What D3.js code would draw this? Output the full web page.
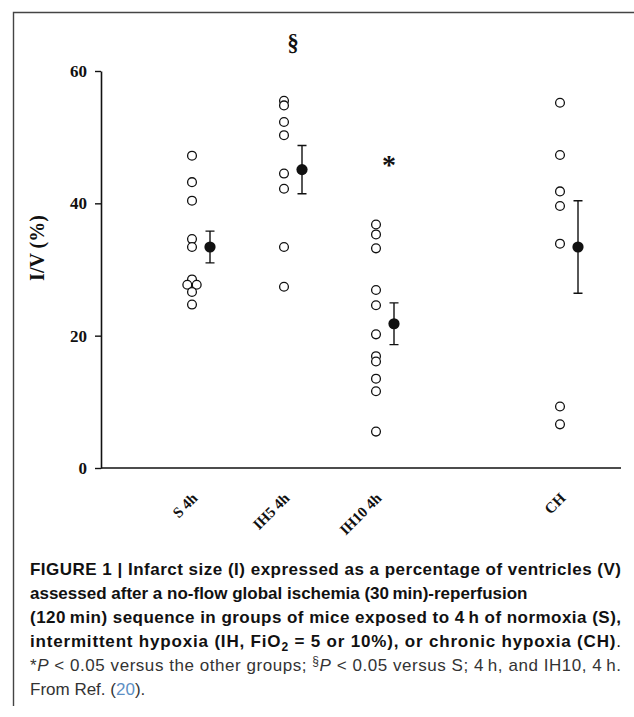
<!DOCTYPE html>
<html>
<head>
<meta charset="utf-8">
<script src="https://cdn.jsdelivr.net/npm/d3@7/dist/d3.min.js"></script>
<style>
  body { margin: 0; background: #fff; }
  svg { display: block; }
</style>
</head>
<body>
<div id="chart"></div>
<script>
// infarct size (I/V, %) per group
var groups = ["S 4h", "IH5 4h", "IH10 4h", "CH"];
// a blank slot sits between IH10 and CH in the original layout
var slots = ["S 4h", "IH5 4h", "IH10 4h", "", "CH"];

var sValues = [47.2, 43.2, 40.4, 34.6, 33.4, 28.5, 27.7, 27.7, 26.6, 24.7];
var ih5Values = [55.5, 54.8, 52.3, 50.3, 44.5, 42.2, 33.4, 27.4];
var ih10Values = [36.8, 35.3, 33.2, 26.9, 24.6, 20.2, 16.9, 16.1, 13.5, 11.6, 5.5];
var chValues = [55.2, 47.3, 41.8, 39.6, 33.9, 9.3, 6.6];

var means = [33.4, 45.1, 21.8, 33.4];
var sems = [2.4, 3.65, 3.15, 7.0];

var yTicks = [0, 20, 40, 60];
var signs = ["", "§", "*", ""];
var signValues = [null, 64.4, 47.6, null];

var captionLines = [
    [{t: "FIGURE 1 | Infarct size (I) expressed as a percentage of ventricles (V)", b: 1}],
    [{t: "assessed after a no-flow global ischemia (30\u2009min)-reperfusion", b: 1}],
    [{t: "(120\u2009min) sequence in groups of mice exposed to 4\u2009h of normoxia (S),", b: 1}],
    [{t: "intermittent hypoxia (IH, FiO", b: 1}, {t: "2", b: 1, sub: 1}, {t: " = 5 or 10%), or chronic hypoxia (CH)", b: 1}, {t: "."}],
    [{t: "*"}, {t: "P", i: 1}, {t: " < 0.05 versus the other groups; "}, {t: "§", sup: 1}, {t: "P", i: 1}, {t: " < 0.05 versus S; 4\u2009h, and IH10, 4\u2009h."}],
    [{t: "From Ref. ("}, {t: "20", link: 1}, {t: ")."}]
];
var justified = [true, false, true, true, true, false];

var W = 634, H = 717;
var plotLeft = 101, plotRight = 621, plotTop = 71, plotBottom = 468;

var svg = d3.select("#chart").append("svg")
    .attr("width", W)
    .attr("height", H);

// frame
svg.append("path")
    .attr("d", "M13.5,706V12.5H634")
    .attr("fill", "none")
    .attr("stroke", "#444")
    .attr("stroke-width", 1.4);

var x = d3.scalePoint()
    .domain(slots)
    .range([201, 569]);

var y = d3.scaleLinear()
    .domain([0, 60])
    .range([plotBottom, plotTop]);

var serif = "'Liberation Serif', 'Times New Roman', serif";

// y axis
var yAxis = d3.axisLeft(y)
    .tickValues(yTicks)
    .tickSize(6)
    .tickSizeOuter(0)
    .tickPadding(8);

var gy = svg.append("g")
    .attr("transform", "translate(" + plotLeft + ",0)")
    .call(yAxis);
gy.select(".domain").attr("stroke", "#111").attr("stroke-width", 1.6);
gy.selectAll(".tick line").attr("stroke", "#111").attr("stroke-width", 1.4);
gy.selectAll(".tick text")
    .attr("fill", "#111")
    .style("font-family", serif)
    .style("font-weight", "bold")
    .style("font-size", "17px");

// x axis: plain baseline plus rotated labels
svg.append("line")
    .attr("x1", plotLeft)
    .attr("x2", plotRight)
    .attr("y1", y(0))
    .attr("y2", y(0))
    .attr("stroke", "#111")
    .attr("stroke-width", 1.6);

var xAxis = d3.axisBottom(x)
    .tickValues(groups)
    .tickSize(0);

var gx = svg.append("g")
    .attr("transform", "translate(0," + y(0) + ")")
    .call(xAxis);
gx.select(".domain").remove();
gx.selectAll(".tick text")
    .attr("y", 0)
    .attr("dy", 0)
    .attr("text-anchor", "end")
    .attr("transform", "translate(-3,31) rotate(-45)")
    .attr("fill", "#111")
    .style("font-family", serif)
    .style("font-weight", "bold")
    .style("font-size", "15px");

// y title
svg.append("text")
    .attr("transform", "translate(44,248) rotate(-90)")
    .attr("text-anchor", "middle")
    .attr("fill", "#111")
    .style("font-family", serif)
    .style("font-weight", "bold")
    .style("font-size", "20px")
    .text("I/V (%)");

// individual animals, drawn left of the group centre
var allValues = [sValues, ih5Values, ih10Values, chValues];
var pts = [];
groups.forEach(function(g, gi) {
    var vals = allValues[gi];
    vals.forEach(function(v, i) {
        // equal values are dodged side by side
        var same = vals.filter(function(w) { return w === v; }).length;
        var k = vals.slice(0, i).filter(function(w) { return w === v; }).length;
        pts.push({group: g, value: v, dodge: (k - (same - 1) / 2) * 9.4});
    });
});

svg.append("g").selectAll("circle")
    .data(pts)
    .join("circle")
    .attr("cx", function(d) { return x(d.group) - 9 + d.dodge; })
    .attr("cy", function(d) { return y(d.value); })
    .attr("r", 4.4)
    .attr("fill", "#fff")
    .attr("stroke", "#111")
    .attr("stroke-width", 1.3);

// mean +/- SEM, right of the group centre
var stats = groups.map(function(g, i) { return {group: g, mean: means[i], sem: sems[i]}; });
var mg = svg.append("g").selectAll("g")
    .data(stats)
    .join("g")
    .attr("transform", function(d) { return "translate(" + (x(d.group) + 9) + ",0)"; });

mg.append("path")
    .attr("d", function(d) {
        var t = y(d.mean + d.sem), b = y(d.mean - d.sem);
        return "M-4.5," + t + "H4.5M0," + t + "V" + b + "M-4.5," + b + "H4.5";
    })
    .attr("fill", "none")
    .attr("stroke", "#111")
    .attr("stroke-width", 1.4);

mg.append("circle")
    .attr("cy", function(d) { return y(d.mean); })
    .attr("r", 5.6)
    .attr("fill", "#111");

// significance marks
svg.append("g").selectAll("text")
    .data(groups.map(function(g, i) { return {group: g, sign: signs[i], value: signValues[i]}; })
        .filter(function(d) { return d.sign; }))
    .join("text")
    .attr("x", function(d) { return x(d.group) + (d.sign === "*" ? 4 : 0); })
    .attr("y", function(d) { return y(d.value); })
    .attr("dy", function(d) { return d.sign === "*" ? "0.75em" : "0.35em"; })
    .attr("text-anchor", "middle")
    .attr("fill", "#111")
    .style("font-family", serif)
    .style("font-weight", "bold")
    .style("font-size", function(d) { return d.sign === "*" ? "28px" : "23px"; })
    .text(function(d) { return d.sign; });

// caption
var cap = svg.append("g")
    .style("font-family", "'Liberation Sans', Arial, sans-serif")
    .style("font-size", "17px");

captionLines.forEach(function(line, li) {
    var t = cap.append("text")
        .attr("x", 30)
        .attr("y", 575 + li * 24)
        .attr("fill", li < 4 ? "#111" : "#333");
    line.forEach(function(s) {
        var ts = t.append("tspan").text(s.t);
        if (s.b) ts.style("font-weight", "bold");
        if (s.i) ts.style("font-style", "italic");
        if (s.link) ts.attr("fill", "#5d8fc4");
        if (s.sub) ts.attr("dy", 4).style("font-size", "12px");
        if (s.sup) ts.attr("dy", -6).style("font-size", "12px");
    });
    // undo baseline shifts
    t.selectAll("tspan").each(function(d, i) {
        var prev = i > 0 ? line[i - 1] : null;
        if (prev && (prev.sub || prev.sup) && !(line[i].sub || line[i].sup)) {
            d3.select(this).attr("dy", prev.sub ? -4 : 6);
        }
    });
    if (justified[li]) {
        t.attr("textLength", 591).attr("lengthAdjust", "spacing");
    }
});
</script>
</body>
</html>
